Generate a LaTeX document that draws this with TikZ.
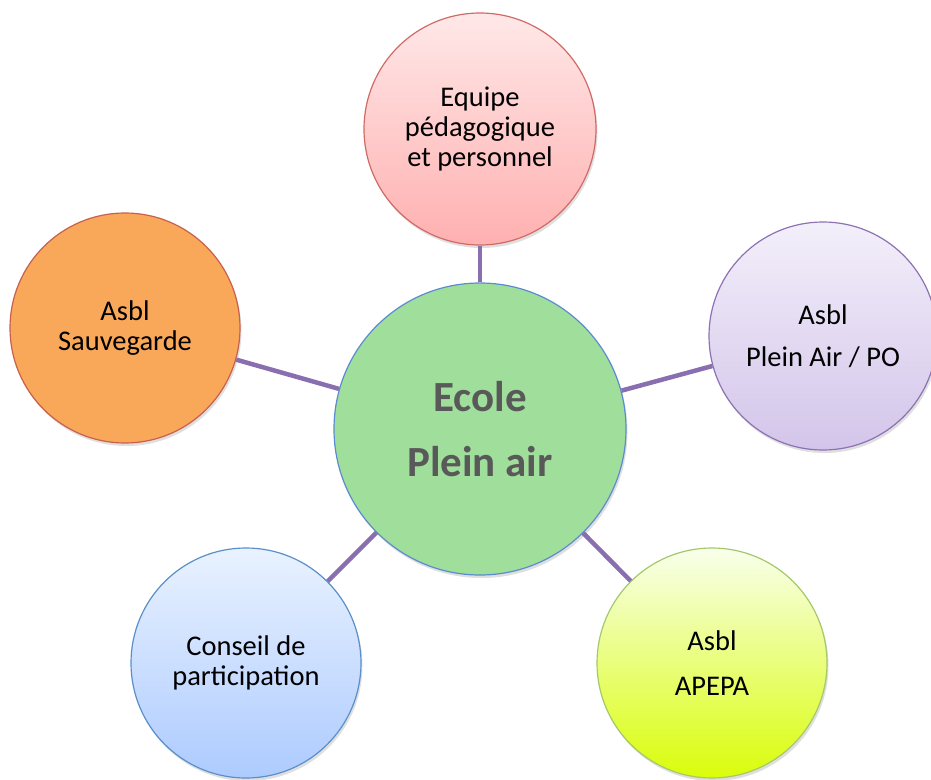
\documentclass[tikz,border=0pt]{standalone}
\usepackage{fontspec}
\setmainfont{Carlito}
\usetikzlibrary{shadows}
\definecolor{linkc}{HTML}{8A6FB0}
\definecolor{cfill}{HTML}{9FDF9B}
\definecolor{cdraw}{HTML}{5B8BD0}
\definecolor{ctext}{HTML}{595959}
\definecolor{ttop}{HTML}{FFE8E8}
\definecolor{tbot}{HTML}{FFB0B0}
\definecolor{tdraw}{HTML}{D06A66}
\definecolor{rtop}{HTML}{F3EFFA}
\definecolor{rbot}{HTML}{D3C5EA}
\definecolor{rdraw}{HTML}{8C72B4}
\definecolor{lfill}{HTML}{F9A85A}
\definecolor{ldraw}{HTML}{C8604D}
\definecolor{bltop}{HTML}{E9F2FF}
\definecolor{blbot}{HTML}{ADCBFF}
\definecolor{bldraw}{HTML}{5B8FC8}
\definecolor{brtop}{HTML}{F8FFEC}
\definecolor{brbot}{HTML}{DAFD0A}
\definecolor{brdraw}{HTML}{A5C86B}
\tikzset{
  bubble/.style={circle, inner sep=0pt, align=center, line width=1.2pt,
    font=\fontsize{28.5}{30}\selectfont,
    drop shadow={shadow xshift=1.5pt, shadow yshift=-3pt, opacity=0.25}},
  link/.style={draw=linkc, line width=4.5pt},
}
\begin{document}
\begin{tikzpicture}[x=1pt,y=-1pt]
\useasboundingbox (0,0) rectangle (931,779);
\fill[white] (0,0) rectangle (931,779);
\node[bubble, minimum size=292pt, fill=cfill, draw=cdraw,
  font=\fontsize{43}{65}\selectfont\bfseries, text=ctext] (c) at (480,429) {Ecole\\Plein air};
\node[bubble, minimum size=232pt, top color=ttop, bottom color=tbot, draw=tdraw] (t) at (480,129) {Equipe\\pédagogique\\et personnel};
\node[bubble, minimum size=228pt, top color=rtop, bottom color=rbot, draw=rdraw] (r) at (823,336) {Asbl\\[12pt]Plein Air / PO};
\node[bubble, minimum size=230pt, fill=lfill, draw=ldraw] (l) at (125,328) {Asbl\\Sauvegarde};
\node[bubble, minimum size=230pt, top color=bltop, bottom color=blbot, draw=bldraw] (bl) at (246,663) {Conseil de\\participation};
\node[bubble, minimum size=230pt, top color=brtop, bottom color=brbot, draw=brdraw] (br) at (712,663) {Asbl\\[15pt]APEPA};
\draw[link] (c) -- (t);
\draw[link] (c) -- (r);
\draw[link] (c) -- (l);
\draw[link] (c) -- (bl);
\draw[link] (c) -- (br);
\end{tikzpicture}
\end{document}
